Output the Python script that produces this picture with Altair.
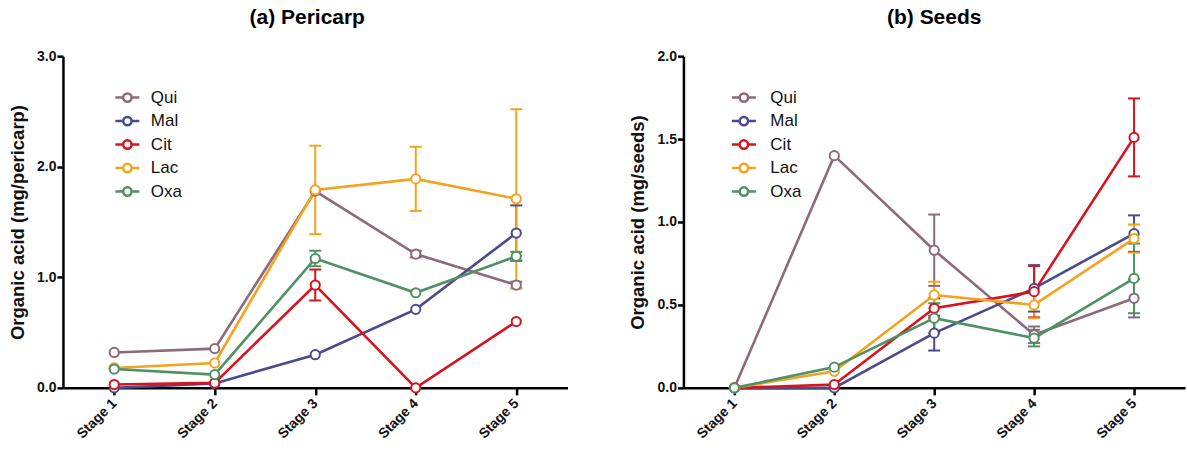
import altair as alt
import pandas as pd

stages = ["Stage 1", "Stage 2", "Stage 3", "Stage 4", "Stage 5"]
acids = ["Qui", "Mal", "Cit", "Lac", "Oxa"]
colors = ["#8C6A7B", "#4B4A8C", "#D7141E", "#F5A21E", "#4E9163"]

# (a) Pericarp  (mg/pericarp)
peri_qui = [0.32, 0.355, 1.78, 1.21, 0.93]
peri_mal = [0.00, 0.04, 0.30, 0.71, 1.40]
peri_cit = [0.03, 0.045, 0.93, 0.00, 0.60]
peri_lac = [0.18, 0.225, 1.79, 1.89, 1.71]
peri_oxa = [0.17, 0.12, 1.17, 0.86, 1.19]
peri_qui_err = [None, None, None, 0.03, 0.03]
peri_mal_err = [None, None, None, None, 0.25]
peri_cit_err = [None, None, 0.14, None, None]
peri_lac_err = [None, None, 0.40, 0.29, 0.81]
peri_oxa_err = [None, None, 0.07, None, 0.04]

# (b) Seeds  (mg/seeds)
seed_qui = [0.00, 1.40, 0.83, 0.32, 0.54]
seed_mal = [0.00, 0.00, 0.33, 0.60, 0.93]
seed_cit = [0.00, 0.02, 0.48, 0.58, 1.51]
seed_lac = [0.00, 0.10, 0.56, 0.50, 0.90]
seed_oxa = [0.00, 0.125, 0.42, 0.30, 0.66]
seed_qui_err = [None, None, 0.215, 0.05, 0.115]
seed_mal_err = [None, None, 0.105, 0.14, 0.11]
seed_cit_err = [None, None, 0.06, 0.155, 0.235]
seed_lac_err = [None, None, 0.08, 0.08, 0.085]
seed_oxa_err = [None, None, 0.09, 0.05, 0.21]

FONT = "Liberation Sans"


def make_df(vals, errs):
    rows = []
    for a, v, e in zip(acids, vals, errs):
        for s, y, d in zip(stages, v, e):
            rows.append({"acid": a, "stage": s, "value": y,
                         "lo": None if d is None else y - d,
                         "hi": None if d is None else y + d})
    return pd.DataFrame(rows)


LEG_PATH = ("M-2,0L-0.7,0M0.7,0L2,0M0.7,0A0.7,0.7,0,1,1,-0.7,0"
            "A0.7,0.7,0,1,1,0.7,0Z")


def panel(df, title, ytitle, ymax, yvals, width, legx, laboff, tdx):
    x = alt.X("stage:N", sort=stages, title=None,
              scale=alt.Scale(type="point", padding=0.51),
              axis=alt.Axis(labelAngle=-45, labelAlign="right",
                            labelBaseline="middle", labelPadding=6,
                            labelFontSize=14, tickSize=7))
    y = alt.Y("value:Q", title=ytitle,
              scale=alt.Scale(domain=[0, ymax], nice=False, zero=True),
              axis=alt.Axis(values=yvals, format=".1f", grid=False,
                            labelFontSize=14, tickSize=6, labelPadding=1,
                            titleFontSize=18.5, titlePadding=9))
    leg = alt.Legend(title=None, orient="none", legendX=legx, legendY=33,
                     symbolType=LEG_PATH, symbolSize=144,
                     symbolStrokeWidth=2.5, symbolFillColor="white",
                     symbolOpacity=1,
                     labelFontSize=17, labelFont=FONT, labelColor="#111",
                     labelOffset=laboff, rowPadding=4.5, padding=0)
    scale = alt.Scale(domain=acids, range=colors)
    col = alt.Color("acid:N", scale=scale, sort=acids, legend=leg)
    base = alt.Chart(df)
    err = base.transform_filter("isValid(datum.lo)")
    rule = err.mark_rule(strokeWidth=2).encode(
        x=x, y="lo:Q", y2="hi:Q", color=col)
    cap_lo = err.mark_rule(strokeWidth=2, xOffset=-6, x2Offset=6).encode(
        x=x, x2="stage:N", y="lo:Q", color=col)
    cap_hi = err.mark_rule(strokeWidth=2, xOffset=-6, x2Offset=6).encode(
        x=x, x2="stage:N", y="hi:Q", color=col)
    line = base.mark_line(strokeWidth=2.6).encode(x=x, y=y, color=col)
    pts = base.mark_point(shape="circle", filled=False, fill="white",
                          fillOpacity=1, size=85, strokeWidth=2,
                          opacity=1).encode(x=x, y=y, color=col)
    return alt.layer(rule, cap_lo, cap_hi, line, pts).properties(
        width=width, height=332,
        title=alt.TitleParams(title, fontSize=21, font=FONT, dx=tdx,
                              fontWeight="bold", anchor="middle", offset=21))


left = panel(make_df([peri_qui, peri_mal, peri_cit, peri_lac, peri_oxa],
                     [peri_qui_err, peri_mal_err, peri_cit_err, peri_lac_err,
                      peri_oxa_err]),
             "(a) Pericarp", "Organic acid (mg/pericarp)", 3.0,
             [0, 1, 2, 3], 505, 56, 15, -8)
right = panel(make_df([seed_qui, seed_mal, seed_cit, seed_lac, seed_oxa],
                      [seed_qui_err, seed_mal_err, seed_cit_err, seed_lac_err,
                       seed_oxa_err]),
              "(b) Seeds", "Organic acid (mg/seeds)", 2.0,
              [0, 0.5, 1.0, 1.5, 2.0], 502, 52, 18, 0)

chart = alt.hconcat(left, right, spacing=61).resolve_scale(
    color="independent").properties(
    padding={"left": 8, "top": 7, "right": 2, "bottom": 2},
    background="white"
).configure_view(stroke=None).configure_axis(
    domainColor="black", domainWidth=2.5, tickColor="black", tickWidth=2.5,
    labelFont=FONT, labelFontWeight="bold", labelColor="#111",
    titleFont=FONT, titleFontWeight="bold", titleColor="#111"
)

chart.save("out.html", embed_options={"renderer": "svg", "actions": False})
